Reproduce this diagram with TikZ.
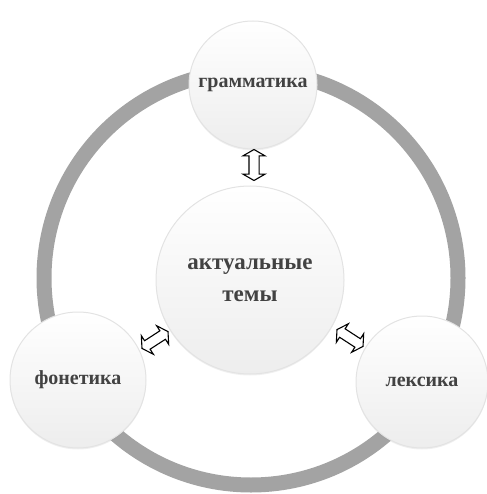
\documentclass[tikz,border=0pt]{standalone}
\usepackage{fontspec}
\setmainfont{Liberation Serif}
\usetikzlibrary{shapes.arrows,shadows}
\definecolor{ringgray}{HTML}{A3A3A3}
\definecolor{txtgray}{HTML}{424242}
\tikzset{
  bubble/.style={circle, draw=gray!22, line width=1pt, top color=white, bottom color=gray!14,
    shading angle=0, text=txtgray, font=\fontsize{20}{30}\selectfont\bfseries, align=center, inner sep=0pt,
    drop shadow={opacity=0.12, shadow xshift=0pt, shadow yshift=-1.5pt}},
  link/.style={double arrow, draw=black, fill=white, line width=1.1pt, minimum height=31pt,
    inner xsep=0pt, inner ysep=4.5pt, double arrow head extend=6pt, double arrow tip angle=120}
}
\begin{document}
\begin{tikzpicture}[x=1pt,y=-1pt]
\useasboundingbox (0,0) rectangle (486,494);
\coordinate (c) at (251,278);
\draw[ringgray, line width=15pt] (c) circle[radius=207];
\node[bubble, minimum size=188pt, font=\fontsize{23}{32}\selectfont\bfseries] (center) at (250,280) {актуальные\\темы};
\node[bubble, minimum size=128pt] (gram) at (253,85) {грамматика};
\node[bubble, minimum size=136pt] (fon) at (78,380) {фонетика};
\node[bubble, minimum size=132pt] (lex) at (422,382) {лексика};
\node[link, rotate=90] (a1) at (254,165) {};
\node[link, rotate=33] (a2) at (155,340) {};
\node[link, rotate=-33] (a3) at (350,338) {};
\end{tikzpicture}
\end{document}
